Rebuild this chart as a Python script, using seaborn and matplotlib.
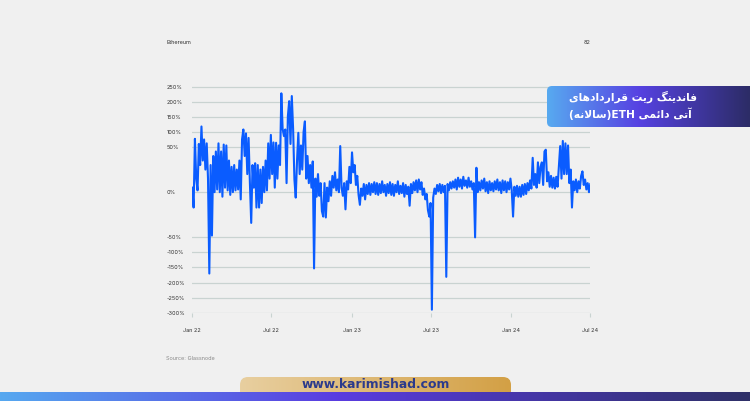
import numpy as np
import pandas as pd
import matplotlib
matplotlib.use("Agg")
import matplotlib.pyplot as plt
from matplotlib.patches import FancyBboxPatch
from matplotlib.colors import LinearSegmentedColormap
import seaborn as sns

# ---------------- data ----------------
start_date = "2022-01-01"
step = "3D"
funding_2022 = [5, -17, 77, 15, 2, 60, 30, 118, 35, 75,
                25, 62, 15, -170, 30, -48, 40, 0, 45, 3,
                62, 0, 45, -5, 58, 5, 55, 2, 35, -3,
                28, 0, 30, 2, 25, 3, 35, -8, 75, 108,
                40, 95, 20, 80, 10, -34, 30, 5, 32, -17,
                30, -17, 25, -12, 28, 0, 35, 2, 62, 15,
                90, 20, 65, 5, 64, 15, 55, 30, 228, 110,
                86, 108, 10, 152, 202, 60, 219, 110, 14, -6,
                35, 97, 20, 55, 25, 100, 135, 15, 40, 10,
                30, 5, 34, -153, 15, -5, 20, -4, 10, -21,
                -27, 10, -28, 5, -10, 12, -4, 18, 5, 22,
                2, 14, 0, 53, 5, -4, 10, -19, 12, 3,
                28, 10]
funding_2023 = [44, 22, 30, 8, 18, -3, -14, 4,
                -4, 9, -8, 8, -2, 10, -3, 9, 0, 11,
                -2, 10, -3, 9, -1, 12, 0, 8, -4, 9,
                -1, 11, -3, 9, -4, 8, 0, 12, -2, 7,
                -1, 10, -5, 8, -2, 6, -15, 9, -1, 11,
                2, 13, 0, 14, 3, 11, -3, 4, -8, -2,
                -20, -27, -12, -290, -6, 4, -2, 8, 1, 9,
                -1, 8, 0, 7, -181, 9, 2, 11, 4, 12,
                5, 14, 3, 16, 6, 14, 4, 17, 7, 13,
                5, 16, 6, 12, 3, 10, -50, 27, 0, 11,
                2, 13, 4, 15, 1, 11, -1, 12, 2, 10,
                1, 12, 3, 14, 2, 11, -1, 13, 2, 12,
                0, 11, 3, 15]
funding_2024 = [2, -27, 6, -4, 7, -5,
                6, -5, 8, -3, 9, -2, 10, 2, 13, 4,
                38, 8, 20, 5, 33, 10, 28, 33, 8, 45,
                47, 12, 22, 6, 18, 5, 16, 4, 17, 6,
                28, 53, 15, 70, 20, 62, 20, 55, 10, 25,
                -17, 12, 2, 14, 0, 12, 4, 18, 23, 8,
                14, 3, 10, 0, 9]

y_ticks = [250, 200, 150, 100, 50, 0, -50, -100, -150, -200, -250, -300]
y_labels = [f"{v}%" for v in y_ticks]
x_ticks = ["2022-01-01", "2022-07-01", "2023-01-01", "2023-07-01", "2024-01-01", "2024-07-01"]
x_labels = ["Jan 22", "Jul 22", "Jan 23", "Jul 23", "Jan 24", "Jul 24"]

header_left = "Ethereum"
header_right = "82"
source_text = "Source: Glassnode"
title_line1 = "فاندینگ ریت قراردادهای"
title_line2_parts = ["آتی", "دائمی", "ETH", "سالانه"]
footer_text = "www.karimishad.com"

funding = funding_2022 + funding_2023 + funding_2024
dates = pd.date_range(start_date, periods=len(funding), freq=step)
df = pd.DataFrame({"date": dates, "funding": funding})

# ---------------- arabic shaping (manual) ----------------
FORMS = {
    'ا': ('\uFE8D', '\uFE8E', None, None),
    'آ': ('\uFE81', '\uFE82', None, None),
    'ت': ('\uFE95', '\uFE96', '\uFE97', '\uFE98'),
    'د': ('\uFEA9', '\uFEAA', None, None),
    'ر': ('\uFEAD', '\uFEAE', None, None),
    'س': ('\uFEB1', '\uFEB2', '\uFEB3', '\uFEB4'),
    'ف': ('\uFED1', '\uFED2', '\uFED3', '\uFED4'),
    'ق': ('\uFED5', '\uFED6', '\uFED7', '\uFED8'),
    'ل': ('\uFEDD', '\uFEDE', '\uFEDF', '\uFEE0'),
    'م': ('\uFEE1', '\uFEE2', '\uFEE3', '\uFEE4'),
    'ن': ('\uFEE5', '\uFEE6', '\uFEE7', '\uFEE8'),
    'ه': ('\uFEE9', '\uFEEA', '\uFEEB', '\uFEEC'),
    'ئ': ('\uFE89', '\uFE8A', '\uFE8B', '\uFE8C'),
    'ی': ('\uFBFC', '\uFBFD', '\uFBFE', '\uFBFF'),
    'گ': ('\uFB92', '\uFB93', '\uFB94', '\uFB95'),
    'LA': ('\uFEFB', '\uFEFC', None, None),
}


def shape_word(word):
    units = []
    i = 0
    while i < len(word):
        if word[i] == 'ل' and i + 1 < len(word) and word[i + 1] == 'ا':
            units.append('LA')
            i += 2
        else:
            units.append(word[i])
            i += 1
    out = []
    for k, u in enumerate(units):
        f = FORMS[u]
        prev_j = k > 0 and FORMS[units[k - 1]][2] is not None
        next_j = f[2] is not None and k + 1 < len(units)
        if prev_j and next_j:
            out.append(f[3])
        elif prev_j:
            out.append(f[1])
        elif next_j:
            out.append(f[2])
        else:
            out.append(f[0])
    return "".join(out)


def visual(word):
    return shape_word(word)[::-1]


line1_visual = " ".join(visual(w) for w in title_line1.split(" ")[::-1])
p = title_line2_parts
line2_visual = "(" + visual(p[3]) + ")" + p[2] + " " + visual(p[1]) + " " + visual(p[0])

# ---------------- figure ----------------
W, H = 750, 401
bg = "#f0f0f0"
grid_c = "#c9d3d1"
fig = plt.figure(figsize=(W / 100, H / 100), dpi=100)
fig.patch.set_facecolor(bg)


def fwd(y):
    y = np.asarray(y, dtype=float)
    a = np.abs(y)
    return np.where(a <= 50, y, np.sign(y) * (50 + (a - 50) / 3.0))


def inv(t):
    t = np.asarray(t, dtype=float)
    a = np.abs(t)
    return np.where(a <= 50, t, np.sign(t) * (50 + (a - 50) * 3.0))


ax_left, ax_right = 192.3, 590.3
ax_top, ax_bot = 86.1, 313.3
ax = fig.add_axes([ax_left / W, 1 - ax_bot / H, (ax_right - ax_left) / W, (ax_bot - ax_top) / H])
ax.set_facecolor("none")

sns.lineplot(data=df, x="date", y="funding", ax=ax, color="#0a5cff", linewidth=1.5, zorder=3)

ax.set_yscale("function", functions=(fwd, inv))
ax.set_ylim(-302, 252)
ax.set_xlim(pd.Timestamp(x_ticks[0]), pd.Timestamp(x_ticks[-1]))
ax.set_yticks(y_ticks)
ax.set_yticklabels(y_labels)
ax.set_xticks([pd.Timestamp(d) for d in x_ticks])
ax.set_xticklabels(x_labels)
ax.set_xlabel("")
ax.set_ylabel("")
for s in ax.spines.values():
    s.set_visible(False)
ax.grid(axis="y", color=grid_c, linewidth=0.9)
ax.grid(axis="x", visible=False)
ax.set_axisbelow(True)
ax.tick_params(axis="x", length=3, width=0.8, color=grid_c, pad=7.5, labelsize=4, labelcolor="#333333")
ax.tick_params(axis="y", length=0, pad=18.4, labelsize=4, labelcolor="#333333")
for lab in ax.get_yticklabels():
    lab.set_horizontalalignment("left")
for lab in ax.get_xticklabels() + ax.get_yticklabels():
    lab.set_fontfamily("Inter")

# ---------------- overlay (texts, banners) ----------------
ov = fig.add_axes([0, 0, 1, 1], zorder=10)
ov.set_facecolor("none")
ov.axis("off")


def gradient(x0, x1, y0, y1, colors, clip=None, z=1):
    cmap = LinearSegmentedColormap.from_list("g", colors)
    im = ov.imshow(np.linspace(0, 1, 256)[None, :], extent=(x0, x1, y1, y0),
                   cmap=cmap, aspect="auto", zorder=z, interpolation="bilinear")
    if clip is not None:
        im.set_clip_path(clip)
    return im


# title box
tb = FancyBboxPatch((547, 86), 215, 41, boxstyle="round,pad=0,rounding_size=5",
                    facecolor="none", edgecolor="none", transform=ov.transData)
ov.add_patch(tb)
gradient(547, 750, 86, 127, [(0, "#58aaf0"), (0.45, "#5642e2"), (1, "#2c2c66")], clip=tb, z=2)
ov.text(697, 96.5, line1_visual, ha="right", va="center", color="white", fontsize=7.7,
        fontweight="bold", family=["DejaVu Sans"], zorder=5)
ov.text(692, 114, line2_visual, ha="right", va="center", color="white", fontsize=7.7,
        fontweight="bold", family=["DejaVu Sans"], zorder=5)

# footer tab and bar
ft = FancyBboxPatch((240, 377), 271, 24, boxstyle="round,pad=0,rounding_size=8",
                    facecolor="none", edgecolor="none", transform=ov.transData)
ov.add_patch(ft)
gradient(240, 511, 377, 401, [(0, "#e8cfa0"), (1, "#d3a045")], clip=ft, z=2)
gradient(0, 750, 392, 401, [(0, "#56a8f0"), (0.45, "#5a3ce0"), (1, "#2f3068")], z=3)
ov.text(376, 384.5, footer_text, ha="center", va="center", color="#2b3a8c", fontsize=8.9,
        fontweight="bold", family=["DejaVu Sans"], zorder=5)

# header/source texts
ov.text(166.5, 42, header_left, ha="left", va="center", fontsize=4, color="#333333", family="Inter")
ov.text(591, 42, header_right, ha="right", va="center", fontsize=4, color="#333333", family="Inter")
ov.text(166.5, 358, source_text, ha="left", va="center", fontsize=4, color="#8a8a8a", family="Inter")

ov.set_xlim(0, W)
ov.set_ylim(H, 0)

fig.savefig("out.png", dpi=100, facecolor=bg)
